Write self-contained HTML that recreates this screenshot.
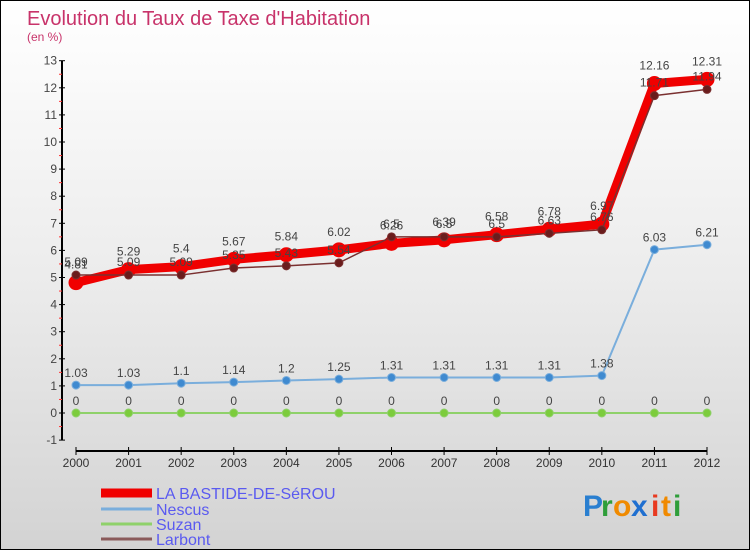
<!DOCTYPE html>
<html><head><meta charset="utf-8"><style>
body{margin:0}
#wrap{width:750px;height:550px;position:relative;box-sizing:border-box;border:1px solid #000;background:linear-gradient(#fff 0%,#ececec 50%,#d3d3d3 100%);overflow:hidden;font-family:"Liberation Sans",sans-serif}
svg text{font-family:"Liberation Sans",sans-serif}
</style></head><body>
<div id="wrap">
<svg id="chart" width="750" height="550">
<text x="26" y="24" font-size="20" fill="#c8336a">Evolution du Taux de Taxe d'Habitation</text>
<text x="26" y="40" font-size="12" fill="#c8336a">(en %)</text>
<g id="axes"></g><g id="series"></g><g id="legend"></g>
<g font-size="30" font-weight="bold">
<text x="582" y="515" fill="#2a7fd0">P</text><text x="600" y="515" fill="#2f9e3a">r</text><text x="612" y="515" fill="#f08a00">o</text><text x="630" y="515" fill="#1f6fd0">x</text><text x="650" y="515" fill="#e83a20">i</text><text x="660" y="515" fill="#f08a00">t</text><text x="672" y="515" fill="#2f9e3a">i</text>
</g>
</svg></div>
<script>
const years=[2000,2001,2002,2003,2004,2005,2006,2007,2008,2009,2010,2011,2012];
const bastide=[4.81,5.29,5.4,5.67,5.84,6.02,6.26,6.39,6.58,6.78,6.97,12.16,12.31];
const nescus=[1.03,1.03,1.1,1.14,1.2,1.25,1.31,1.31,1.31,1.31,1.38,6.03,6.21];
const suzan=[0,0,0,0,0,0,0,0,0,0,0,0,0];
const larbont=[5.09,5.09,5.09,5.35,5.43,5.54,6.5,6.5,6.5,6.63,6.76,11.71,11.94];
const yTicks=[-1,0,1,2,3,4,5,6,7,8,9,10,11,12,13];
const seriesNames=["LA BASTIDE-DE-SéROU","Nescus","Suzan","Larbont"];
const NS="http://www.w3.org/2000/svg";
const x=i=>75+i*(706-75)/12;
const y=v=>412-v*27.1;
function mk(tag,attrs,parent){const e=document.createElementNS(NS,tag);for(const k in attrs)e.setAttribute(k,attrs[k]);parent.appendChild(e);return e;}
const ax=document.getElementById('axes');
let a=mk('line',{x1:61,y1:y(13),x2:61,y2:y(-1),stroke:'#000','stroke-width':2},ax);


yTicks.forEach(v=>{
 mk('line',{x1:58,x2:64,y1:y(v),y2:y(v),stroke:'#000'},ax);
 if(v<13){const m=mk('line',{x1:58,x2:61,y1:y(v+0.5),y2:y(v+0.5),stroke:'#f33'},ax);}
 const t=mk('text',{x:56,y:y(v)+4,'text-anchor':'end','font-size':12,fill:'#444'},ax);t.textContent=v;
 
 
});
let b=mk('line',{x1:x(0),y1:450,x2:x(12),y2:450,stroke:'#000','stroke-width':2},ax);


years.forEach((yr,i)=>{
 mk('line',{x1:x(i),x2:x(i),y1:446,y2:454,stroke:'#000'},ax);
 const t=mk('text',{x:x(i),y:466,'text-anchor':'middle','font-size':12,fill:'#333'},ax);t.textContent=yr;
 
 
});
const sg=document.getElementById('series');
function draw(data,color,w,r,name,labelDy,dot){
 const g=mk('g',{},sg);
 
 
 mk('polyline',{points:data.map((v,i)=>x(i)+','+y(v)).join(' '),fill:'none',stroke:color,'stroke-width':w,'stroke-linejoin':'round'},g);
 data.forEach((v,i)=>{
  const c=mk('circle',{cx:x(i),cy:y(v),r:r,fill:dot,stroke:color,'stroke-width':1},g);
  
  
  const t=mk('text',{x:x(i),y:y(v)+labelDy,'text-anchor':'middle','font-size':12,fill:'#444'},g);t.textContent=v;
  
  
 });
}
draw(suzan,'#8fd16a',2,4,'suzan-series',-8,'#7ccc3c');
draw(nescus,'#7aaedc',2,4,'nescus-series',-8,'#3f8ad0');
draw(bastide,'#f00000',9,7,'bastide-series',-14,'#f00000');
draw(larbont,'#7a3030',1.5,4,'larbont-series',-9,'#6a1c1c');
const lg=document.getElementById('legend');
const lc=[['#f00000',9],['#7aaedc',3],['#8fd16a',3],['#8a5a5a',3]];
const ly=[492,508,523,538];
seriesNames.forEach((n,i)=>{
 const g=mk('g',{},lg);
 
 
 mk('line',{x1:100,x2:151,y1:ly[i],y2:ly[i],stroke:lc[i][0],'stroke-width':lc[i][1]},g);
 const t=mk('text',{x:155,y:ly[i]+6,'font-size':16,fill:'#5a5af0'},g);t.textContent=n;
});
</script></body></html>
